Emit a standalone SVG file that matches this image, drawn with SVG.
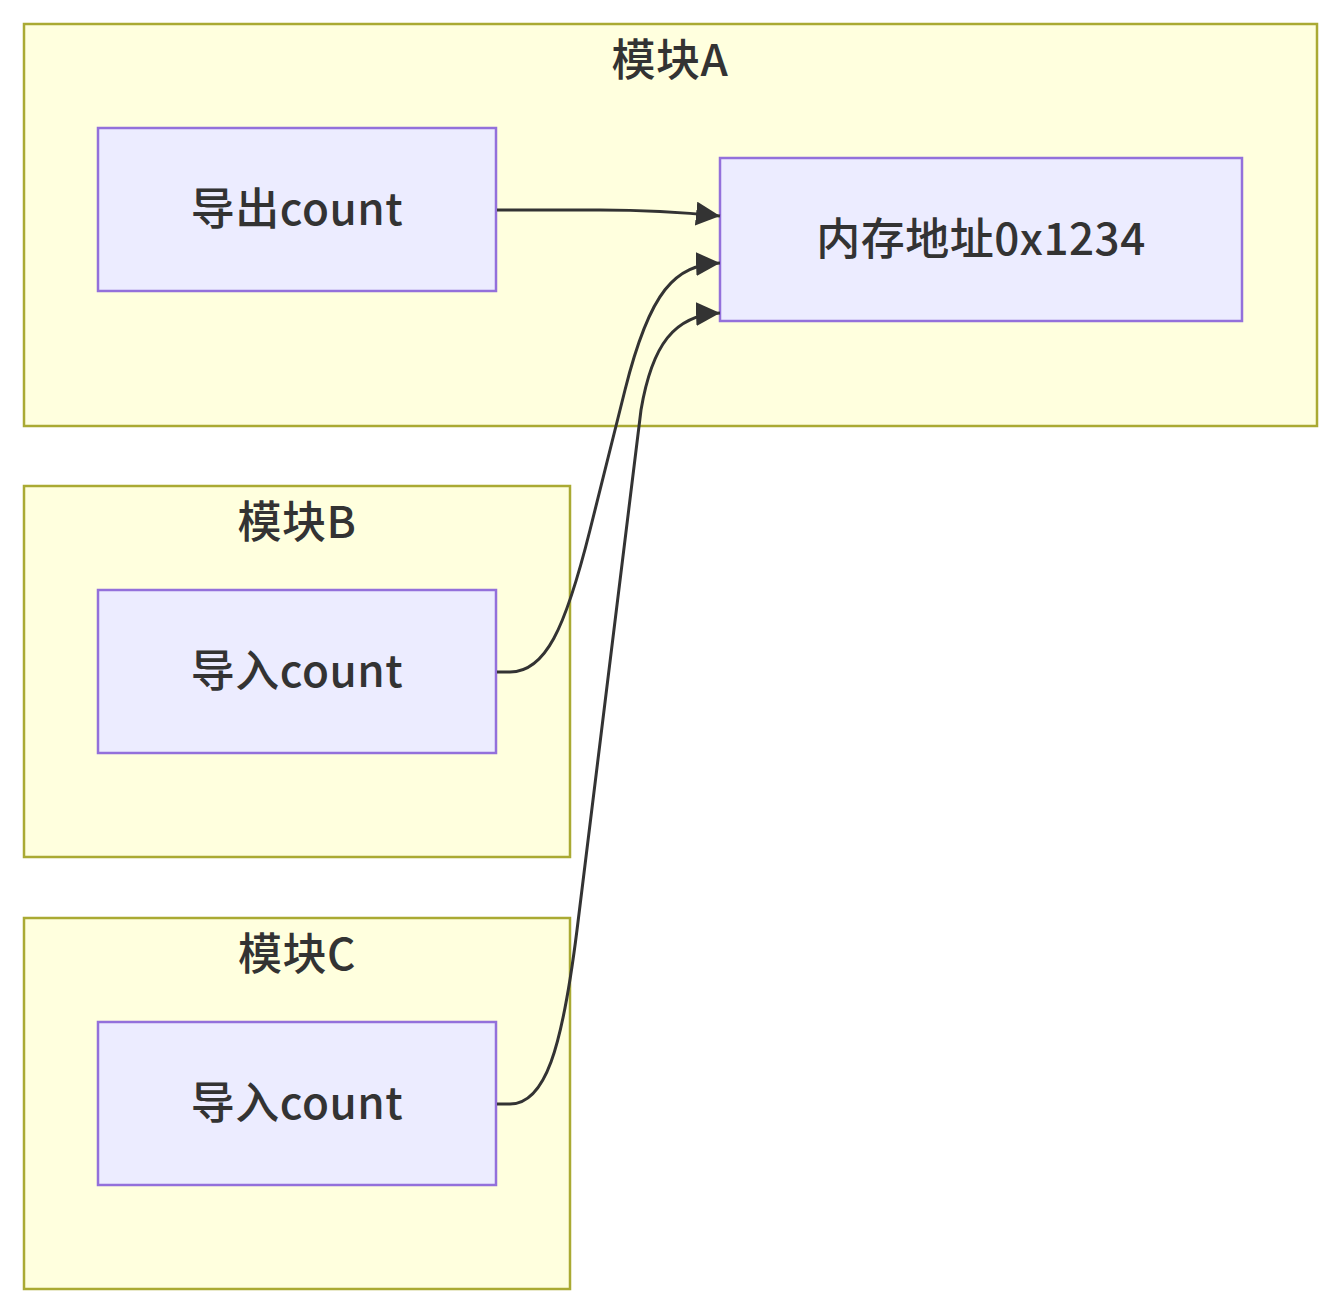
<svg xmlns="http://www.w3.org/2000/svg" width="1341" height="1314" viewBox="0 0 1341 1314">
<style>
.cluster{fill:#ffffde;stroke:#aaaa33;stroke-width:2.5}
.node{fill:#ececff;stroke:#9370db;stroke-width:2.5}
.lbl{font-family:"Noto Sans CJK SC","Noto Sans",sans-serif;font-size:44px;font-weight:500;letter-spacing:0.5px;fill:#333;text-anchor:middle;dominant-baseline:central}
.edge{fill:none;stroke:#333;stroke-width:3}
</style>
<defs>
<marker id="ah" viewBox="0 0 24 24" refX="24" refY="12" markerWidth="24" markerHeight="24" markerUnits="userSpaceOnUse" orient="auto">
<path d="M0,0 L24,12 L0,24 z" fill="#333"/>
</marker>
</defs>
<g id="clusterA"><rect class="cluster" x="24" y="24" width="1293" height="402"/><text class="lbl" x="670" y="57">模块A</text></g>
<g id="clusterB"><rect class="cluster" x="24" y="486" width="546" height="371"/><text class="lbl" x="297" y="519">模块B</text></g>
<g id="clusterC"><rect class="cluster" x="24" y="918" width="546" height="371"/><text class="lbl" x="297" y="951">模块C</text></g>
<g id="export"><rect class="node" x="98" y="128" width="398" height="163"/><text class="lbl" x="297" y="206">导出count</text></g>
<g id="mem"><rect class="node" x="720" y="158" width="522" height="163"/><text class="lbl" x="981" y="236">内存地址0x1234</text></g>
<g id="importB"><rect class="node" x="98" y="590" width="398" height="163"/><text class="lbl" x="297" y="668">导入count</text></g>
<g id="importC"><rect class="node" x="98" y="1022" width="398" height="163"/><text class="lbl" x="297" y="1100">导入count</text></g>
<g id="edges">
<path class="edge" marker-end="url(#ah)" d="M497,210 L600,210 C640,210 680,212 720,216"/>
<path class="edge" marker-end="url(#ah)" d="M497,672 L510,672 C545,672 565,630 590,530 L625,390 C650,290 675,265 720,263"/>
<path class="edge" marker-end="url(#ah)" d="M497,1104 L510,1104 C545,1104 562,1050 577,930 L641,410 C652,345 674,315 720,313"/>
</g>
</svg>
